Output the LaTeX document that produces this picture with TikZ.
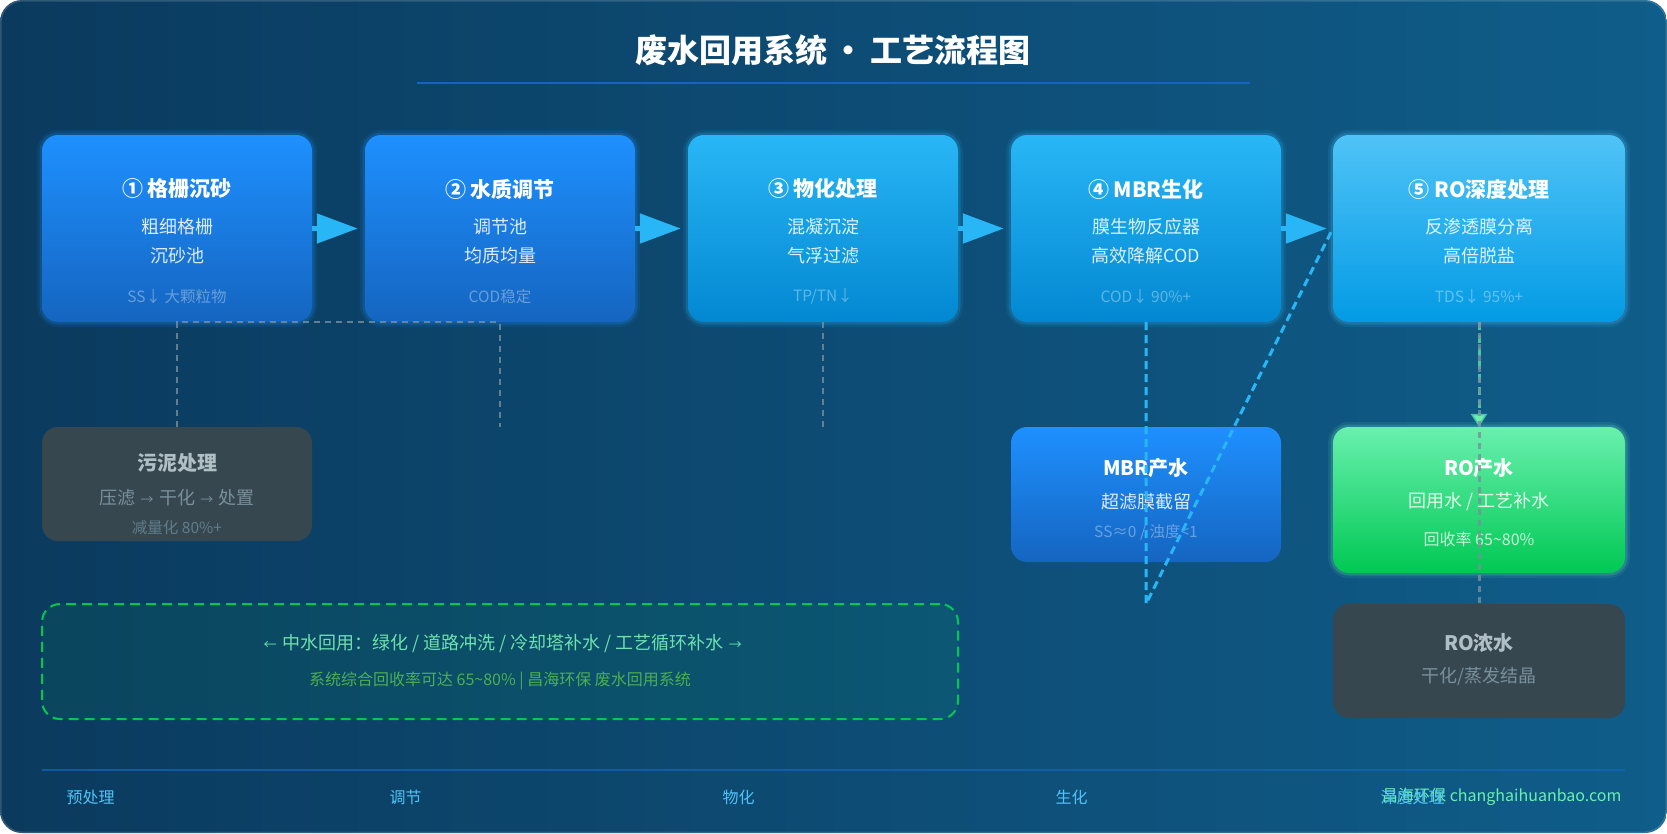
\documentclass[tikz,border=0pt]{standalone}
\usepackage{fontspec}
\setmainfont{Noto Sans CJK SC}
\usetikzlibrary{arrows.meta,positioning,calc}

\definecolor{bgleft}{HTML}{0B3A5E}
\definecolor{bgright}{HTML}{0F5D8A}
\definecolor{deepblue}{HTML}{1E90FF}
\definecolor{deepbluedk}{HTML}{1565C0}
\definecolor{skyblue}{HTML}{29B6F6}
\definecolor{skybluedk}{HTML}{0288D1}
\definecolor{paleblue}{HTML}{4FC3F7}
\definecolor{palebluedk}{HTML}{039BE5}
\definecolor{mint}{HTML}{69F0AE}
\definecolor{mintdk}{HTML}{00C853}
\definecolor{leaf}{HTML}{4CAF50}
\definecolor{slate}{HTML}{37474F}
\definecolor{slatetxt}{HTML}{B0BEC5}
\definecolor{slatesub}{HTML}{78909C}
\definecolor{slatenote}{HTML}{607D8B}
\definecolor{rulecol}{HTML}{1565C0}

\newcommand{\smallarr}[1]{\hspace{0.3em}{\fontsize{13}{15}\selectfont #1}\hspace{0.3em}}

\begin{document}
\begin{tikzpicture}[x=1pt, y=-1pt,
    stage/.style={rectangle, rounded corners=16pt, minimum width=270pt, minimum height=187pt, inner sep=0pt,
        preaction={draw=#1, line width=10pt, draw opacity=0.10},
        preaction={draw=#1, line width=5pt, draw opacity=0.20}},
    waste/.style={rectangle, rounded corners=16pt, fill=slate, inner sep=0pt},
    head/.style={font=\fontsize{21}{25}\selectfont\bfseries, text=white},
    sub/.style={font=\fontsize{18}{22}\selectfont, text=white, text opacity=0.85},
    note/.style={font=\fontsize{15.5}{19}\selectfont, text=white, text opacity=0.35},
    foot/.style={font=\fontsize{16}{19}\selectfont, text=paleblue, anchor=west},
    flow/.style={draw=skyblue, line width=5pt, shorten >=7pt, -{Triangle[length=41pt, width=29pt]}},
    drain/.style={draw=slatesub, line width=2pt, dash pattern=on 6pt off 5pt, draw opacity=0.8},
    bio/.style={draw=skyblue, line width=3pt, dash pattern=on 8pt off 5pt},
    reuse/.style={draw=mint, line width=3pt, dash pattern=on 8pt off 5pt, -{Triangle[length=13pt, width=16pt]}}
]

% Background
\useasboundingbox (0,0) rectangle (1667,833);
\fill[white] (0,0) rectangle (1667,833);
\shade[left color=bgleft, right color=bgright, rounded corners=22pt] (0,0) rectangle (1667,833);
\draw[white, opacity=0.15, line width=1.5pt, rounded corners=22pt] (0.75,0.75) rectangle (1666.25,832.25);

% Title
\node[font=\fontsize{32}{38}\selectfont\bfseries, text=white] (title) at (833,50) {废水回用系统\,·\,工艺流程图};
\draw[rulecol, line width=2pt] (417,83) -- (1250,83);

% Process stages
\node[stage=deepblue, top color=deepblue, bottom color=deepbluedk] (grit) at (177,228.5) {};
\node[stage=deepblue, top color=deepblue, bottom color=deepbluedk] (equal) at (500,228.5) {};
\node[stage=skyblue, top color=skyblue, bottom color=skybluedk] (phys) at (823,228.5) {};
\node[stage=skyblue, top color=skyblue, bottom color=skybluedk] (mbr) at (1146,228.5) {};
\node[stage=paleblue, top color=paleblue, bottom color=palebluedk, minimum width=292pt] (ro) at (1479,228.5) {};

\node[head] (grit-h) at (177,189) {① 格栅沉砂};
\node[sub] (grit-a) at (177,226.5) {粗细格栅};
\node[sub] (grit-b) at (177,256) {沉砂池};
\node[note] (grit-n) at (177,296.5) {SS↓ 大颗粒物};

\node[head] (equal-h) at (500,189) {② 水质调节};
\node[sub] (equal-a) at (500,226.5) {调节池};
\node[sub] (equal-b) at (500,256) {均质均量};
\node[note] (equal-n) at (500,296.5) {COD稳定};

\node[head] (phys-h) at (823,189) {③ 物化处理};
\node[sub] (phys-a) at (823,226.5) {混凝沉淀};
\node[sub] (phys-b) at (823,256) {气浮过滤};
\node[note] (phys-n) at (823,296.5) {TP/TN↓};

\node[head] (mbr-h) at (1146,189) {④ MBR生化};
\node[sub] (mbr-a) at (1146,226.5) {膜生物反应器};
\node[sub] (mbr-b) at (1146,256) {高效降解COD};
\node[note] (mbr-n) at (1146,296.5) {COD↓ 90\%+};

\node[head] (ro-h) at (1479,189) {⑤ RO深度处理};
\node[sub] (ro-a) at (1479,226.5) {反渗透膜分离};
\node[sub] (ro-b) at (1479,256) {高倍脱盐};
\node[note] (ro-n) at (1479,296.5) {TDS↓ 95\%+};

% Outputs
\node[waste, minimum width=270pt, minimum height=114pt] (sludge) at (177,484) {};
\node[head, text=slatetxt, font=\fontsize{20}{24}\selectfont\bfseries] (sludge-h) at (177,463) {污泥处理};
\node[sub, text=slatesub, text opacity=1] (sludge-a) at (177,497.5) {压滤\smallarr{→}干化\smallarr{→}处置};
\node[note, text=slatenote, text opacity=1] (sludge-n) at (177,528) {减量化 80\%+};

\node[rectangle, rounded corners=16pt, minimum width=270pt, minimum height=135pt, inner sep=0pt,
    top color=deepblue, bottom color=deepbluedk] (mbrout) at (1146,494.5) {};
\node[head, font=\fontsize{20}{24}\selectfont\bfseries] (mbrout-h) at (1146,468) {MBR产水};
\node[sub] (mbrout-a) at (1146,502) {超滤膜截留};
\node[note] (mbrout-n) at (1146,532) {SS≈0 / 浊度<1};

\node[stage=mint, top color=mint, bottom color=mintdk, minimum width=292pt, minimum height=146pt] (roout) at (1479,500) {};
\node[head, font=\fontsize{20}{24}\selectfont\bfseries] (roout-h) at (1479,468) {RO产水};
\node[sub] (roout-a) at (1479,502) {回用水 / 工艺补水};
\node[note, text opacity=0.75, font=\fontsize{16}{19}\selectfont] (roout-n) at (1479,539.5) {回收率 65\textasciitilde80\%};

\node[waste, minimum width=292pt, minimum height=114pt] (roconc) at (1479,661) {};
\node[head, text=slatetxt, font=\fontsize{20}{24}\selectfont\bfseries] (roconc-h) at (1479,643) {RO浓水};
\node[sub, text=slatesub, text opacity=1] (roconc-a) at (1479,677) {干化/蒸发结晶};

% Reuse note
\node[rectangle, rounded corners=18pt, minimum width=916pt, minimum height=115pt, inner sep=0pt,
    fill=mintdk, fill opacity=0.08, draw=mintdk, draw opacity=1, line width=2pt, dash pattern=on 10pt off 6pt] (reuse) at (500,661.5) {};
\node[font=\fontsize{18}{22}\selectfont, text=mint!90!white, text opacity=0.9] (reuse-a) at (500,644) {\smallarr{←}中水回用：绿化 / 道路冲洗 / 冷却塔补水 / 工艺循环补水\smallarr{→}};
\node[font=\fontsize{16}{19}\selectfont, text=leaf] (reuse-b) at (500,681) {系统综合回收率可达 65\textasciitilde80\% | 昌海环保 废水回用系统};

% Connections
\coordinate (equal-end) at (500,427);
\coordinate (phys-end) at (823,427);
\coordinate (mbr-end) at (1146,604);
\coordinate (ro-end) at (1479,604);

\draw[flow] (grit) -- (equal);
\draw[flow] (equal) -- (phys);
\draw[flow] (phys) -- (mbr);
\draw[flow, shorten >=6pt] (mbr) -- (ro);

\draw[drain] (sludge.north) -- (grit.south) -- (equal.south) -- (equal-end);
\draw[drain] (phys.south) -- (phys-end);
\draw[bio] (mbr.south) -- (mbr-end) -- (ro.west);
\draw[reuse, draw opacity=0.7] (ro.south) -- (roout.north);
\draw[drain, line width=3pt] (ro.south) -- (ro-end);

% Footer
\draw[rulecol, line width=2pt, opacity=0.7] (42,770) -- (1625,770);
\node[foot] (foot-pre) at (63,797) {预处理};
\node[foot] (foot-eq) at (386,797) {调节};
\node[foot] (foot-phys) at (719,797) {物化};
\node[foot] (foot-bio) at (1052,797) {生化};
\node[foot, text=mint, anchor=east] (foot-site) at (1625,797) {昌海环保 changhaihuanbao.com};
\node[foot] (foot-ro) at (1377,797) {深度处理};

\end{tikzpicture}
\end{document}
